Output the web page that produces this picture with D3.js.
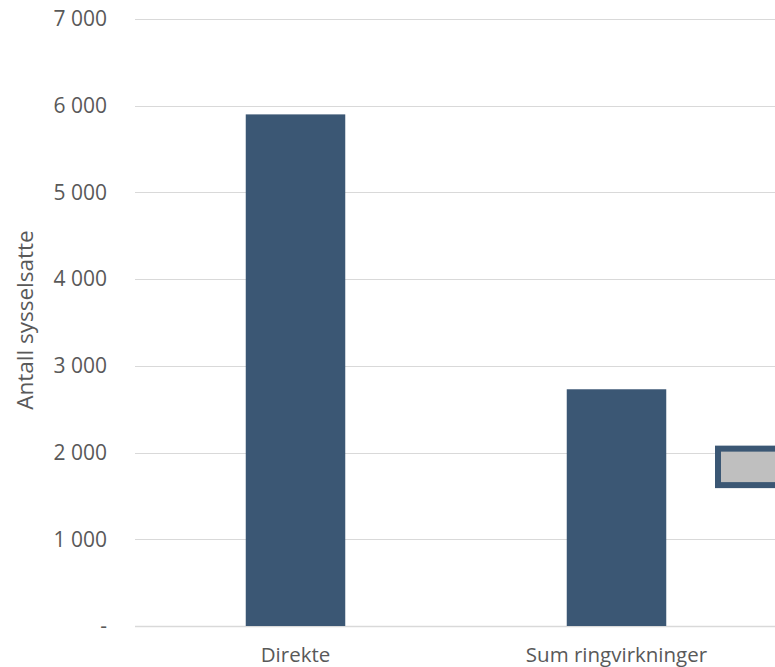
<!DOCTYPE html>
<html>
<head>
<meta charset="utf-8">
<script src="https://cdn.jsdelivr.net/npm/d3@7"></script>
<style>
  body { margin: 0; background: #fff; }
  svg { display: block; font-family: "Open Sans", "Noto Sans", sans-serif; }
</style>
</head>
<body>
<svg id="chart" width="775" height="667"></svg>
<script>
// Data
const categories = ["Direkte", "Sum ringvirkninger"];
const values = [5900, 2730];
const tickValues = [0, 1000, 2000, 3000, 4000, 5000, 6000, 7000];
const tickLabels = ["-", "1 000", "2 000", "3 000", "4 000", "5 000", "6 000", "7 000"];
const yTitle = "Antall sysselsatte";
// Floating (partly visible) box: low and high values
const boxLow = [1590];
const boxHigh = [2080];

const svg = d3.select("#chart");

const y = d3.scaleLinear().domain([0, 7000]).range([626, 19]);
const x = d3.scaleBand().domain(categories).range([135, 777]).paddingInner(0.69).paddingOuter(0.345);

// Gridlines
svg.append("g").selectAll("line").data(tickValues).join("line")
  .attr("x1", 135).attr("x2", 775)
  .attr("y1", d => Math.round(y(d)) + 0.5).attr("y2", d => Math.round(y(d)) + 0.5)
  .attr("stroke", "#d9d9d9").attr("stroke-width", d => d === 0 ? 1.5 : 1);

// Y axis labels
const yAxis = d3.axisLeft(y).tickValues(tickValues).tickFormat((d, i) => tickLabels[i]).tickSize(0).tickPadding(0);
const gy = svg.append("g").attr("transform", "translate(107,0)").call(yAxis);
gy.select(".domain").remove();
gy.selectAll("text").attr("fill", "#595959").style("font-size", "21px").style("font-family", "'Open Sans', sans-serif");

// Bars
svg.append("g").selectAll("rect").data(values).join("rect")
  .attr("x", (d, i) => x(categories[i]))
  .attr("width", x.bandwidth())
  .attr("y", d => y(d))
  .attr("height", d => y(0) - y(d))
  .attr("fill", "#3b5774");

// X labels
const xAxis = d3.axisBottom(x).tickSize(0).tickPadding(0);
const gx = svg.append("g").attr("transform", "translate(0,662)").call(xAxis);
gx.select(".domain").remove();
gx.selectAll("text").attr("fill", "#595959").attr("dy", null).attr("y", 0)
  .style("font-size", "20.5px").style("font-family", "'Open Sans', sans-serif");

// Floating box (partly cropped at right edge)
svg.append("g").selectAll("rect").data(boxLow).join("rect")
  .attr("x", 718)
  .attr("width", 80)
  .attr("y", (d, i) => y(boxHigh[i]) + 3)
  .attr("height", (d, i) => y(d) - y(boxHigh[i]) - 6)
  .attr("fill", "#bfbfbf")
  .attr("stroke", "#3b5774")
  .attr("stroke-width", 6);

// Y title
svg.append("text")
  .attr("transform", "translate(33,320) rotate(-90)")
  .attr("text-anchor", "middle")
  .attr("fill", "#595959")
  .style("font-size", "22.5px")
  .text(yTitle);
</script>
</body>
</html>
